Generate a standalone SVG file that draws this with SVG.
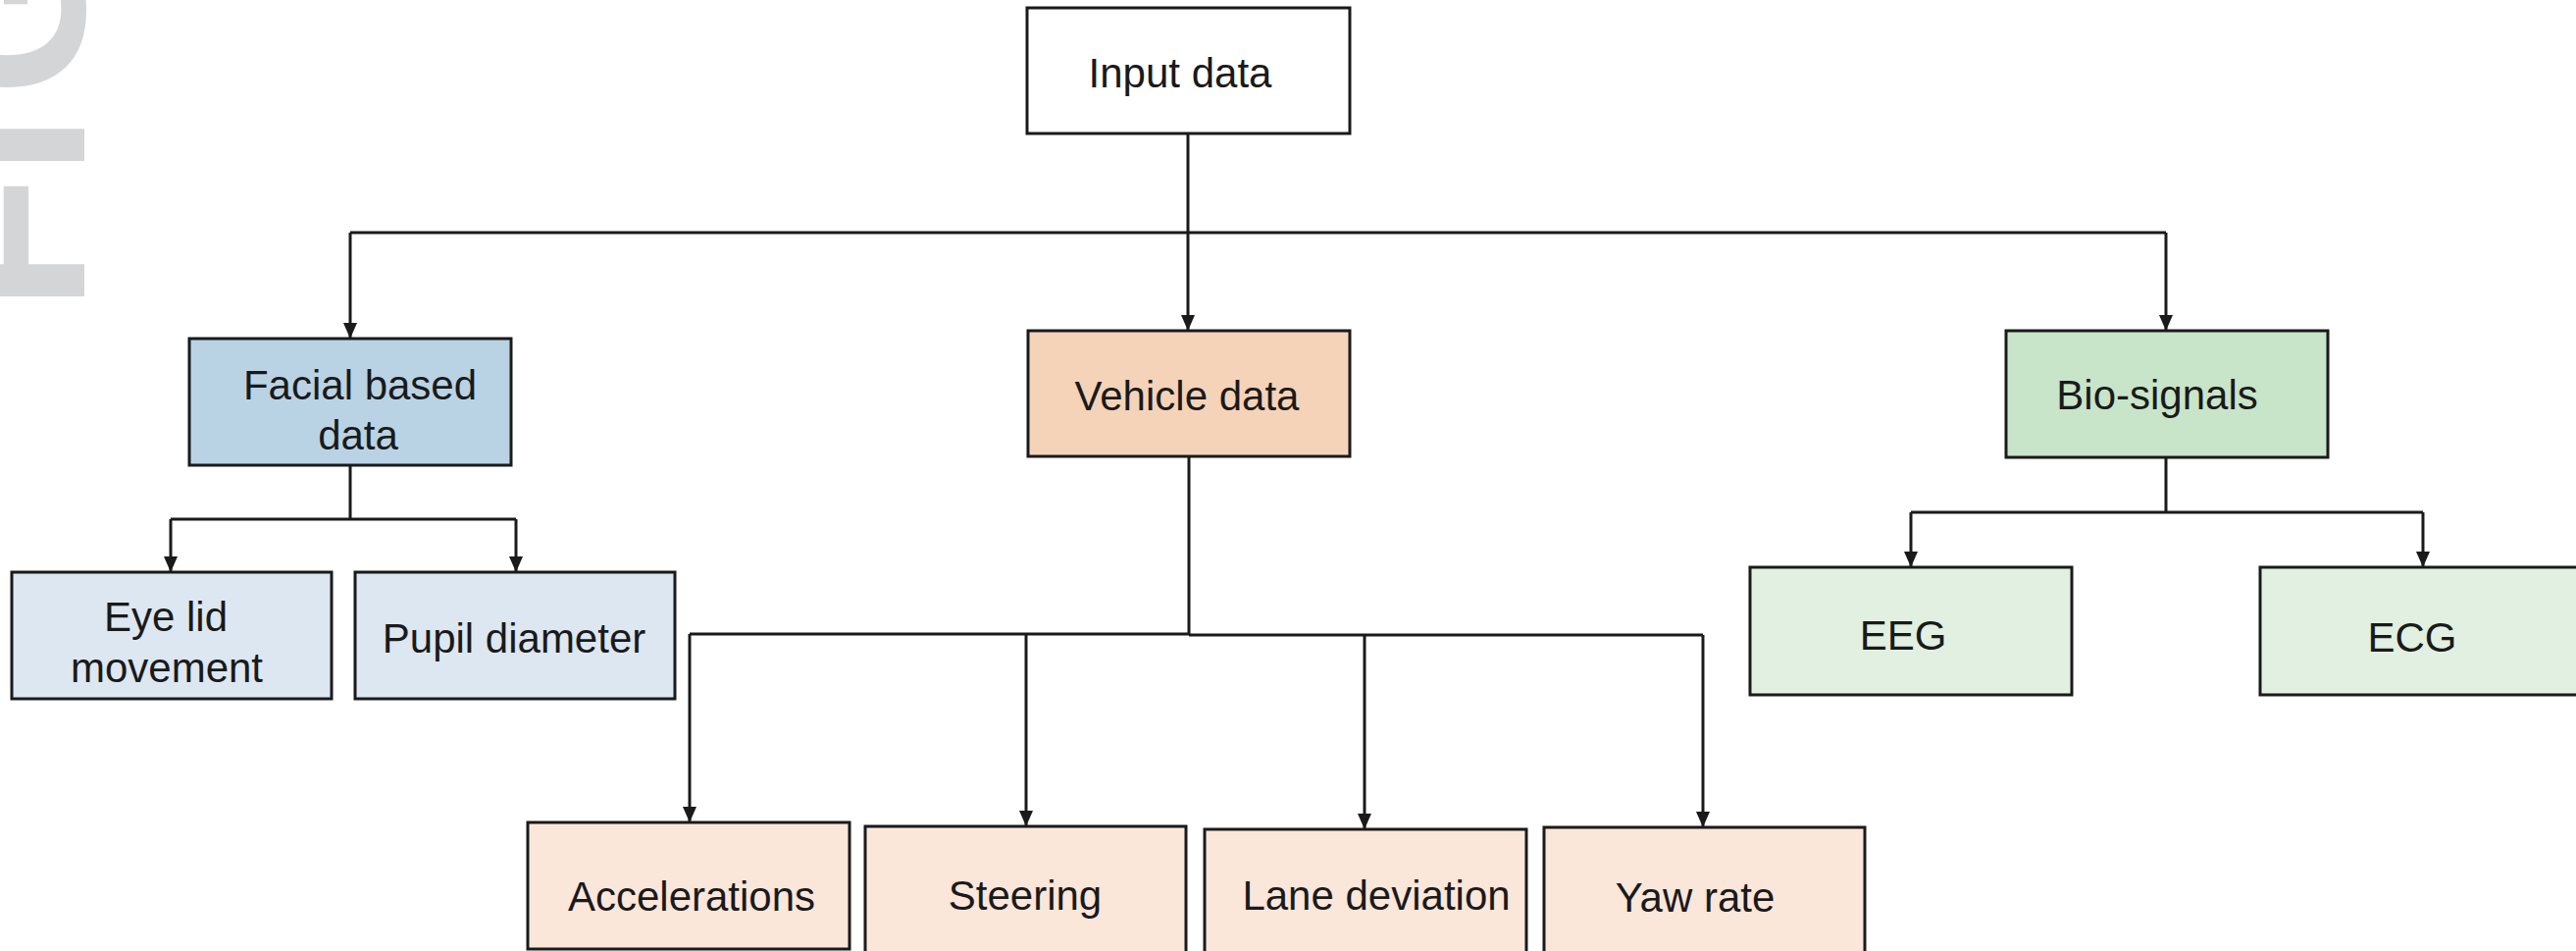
<svg xmlns="http://www.w3.org/2000/svg" width="2626" height="969" viewBox="0 0 2626 969">
<style>
.box{stroke:#1a1a1a;stroke-width:3}
.t{font-family:"Liberation Sans",Arial,sans-serif;font-size:42px;fill:#1a1a1a;text-anchor:middle}
.c{fill:none;stroke:#1a1a1a;stroke-width:3}
.wm{font-family:"Liberation Sans",Arial,sans-serif;font-weight:bold;font-size:226px;fill:#d4d5d7}
</style>
<defs>
<marker id="ah" markerWidth="16" markerHeight="14" refX="16" refY="7" orient="auto" markerUnits="userSpaceOnUse" viewBox="0 0 16 14">
<path d="M0,0 L16,7 L0,14 z" fill="#1a1a1a"/>
</marker>
</defs>
<rect width="2626" height="969" fill="#ffffff"/>
<text class="wm" transform="translate(86,317) rotate(-90)">FI<tspan dx="18">G</tspan></text>
<g id="connectors">
<path class="c" d="M1211,136 V237"/>
<path class="c" d="M357,237 H2208"/>
<path class="c" d="M357,237 V345" marker-end="url(#ah)"/>
<path class="c" d="M1211,237 V337" marker-end="url(#ah)"/>
<path class="c" d="M2208,237 V337" marker-end="url(#ah)"/>
<path class="c" d="M357,474 V529 M174,529 H526"/>
<path class="c" d="M174,529 V583" marker-end="url(#ah)"/>
<path class="c" d="M526,529 V583" marker-end="url(#ah)"/>
<path class="c" d="M2208,466 V522 M1948,522 H2470"/>
<path class="c" d="M1948,522 V578" marker-end="url(#ah)"/>
<path class="c" d="M2470,522 V578" marker-end="url(#ah)"/>
<path class="c" d="M1212,466 V647 M703,646 H1212 M1212,647 H1736"/>
<path class="c" d="M703,646 V838" marker-end="url(#ah)"/>
<path class="c" d="M1046,646 V842" marker-end="url(#ah)"/>
<path class="c" d="M1391,647 V845" marker-end="url(#ah)"/>
<path class="c" d="M1736,647 V843" marker-end="url(#ah)"/>
</g>
<g id="input"><rect class="box" x="1047" y="8" width="329" height="128" fill="#ffffff"/><text class="t" x="1203" y="89">Input data</text></g>
<g id="facial"><rect class="box" x="193" y="345" width="328" height="129" fill="#b9d3e5"/><text class="t" x="367" y="407">Facial based</text><text class="t" x="365" y="458">data</text></g>
<g id="vehicle"><rect class="box" x="1048" y="337" width="328" height="128" fill="#f5d3b8"/><text class="t" x="1210" y="418">Vehicle data</text></g>
<g id="bio"><rect class="box" x="2045" y="337" width="328" height="129" fill="#c8e4c9"/><text class="t" x="2199" y="417">Bio-signals</text></g>
<g id="eyelid"><rect class="box" x="12" y="583" width="326" height="129" fill="#dce7f1"/><text class="t" x="169" y="643">Eye lid</text><text class="t" x="170" y="695">movement</text></g>
<g id="pupil"><rect class="box" x="362" y="583" width="326" height="129" fill="#dce7f1"/><text class="t" x="524" y="665">Pupil diameter</text></g>
<g id="eeg"><rect class="box" x="1784" y="578" width="328" height="130" fill="#e2f0e2"/><text class="t" x="1940" y="662">EEG</text></g>
<g id="ecg"><rect class="box" x="2304" y="578" width="340" height="130" fill="#e2f0e2"/><text class="t" x="2459" y="664">ECG</text></g>
<g id="accel"><rect class="box" x="538" y="838" width="328" height="129" fill="#fbe6da"/><text class="t" x="705" y="928">Accelerations</text></g>
<g id="steering"><rect class="box" x="882" y="842" width="327" height="140" fill="#fbe6da"/><text class="t" x="1045" y="927">Steering</text></g>
<g id="lane"><rect class="box" x="1228" y="845" width="328" height="140" fill="#fbe6da"/><text class="t" x="1403" y="927">Lane deviation</text></g>
<g id="yaw"><rect class="box" x="1574" y="843" width="327" height="140" fill="#fbe6da"/><text class="t" x="1728" y="929">Yaw rate</text></g>
</svg>
